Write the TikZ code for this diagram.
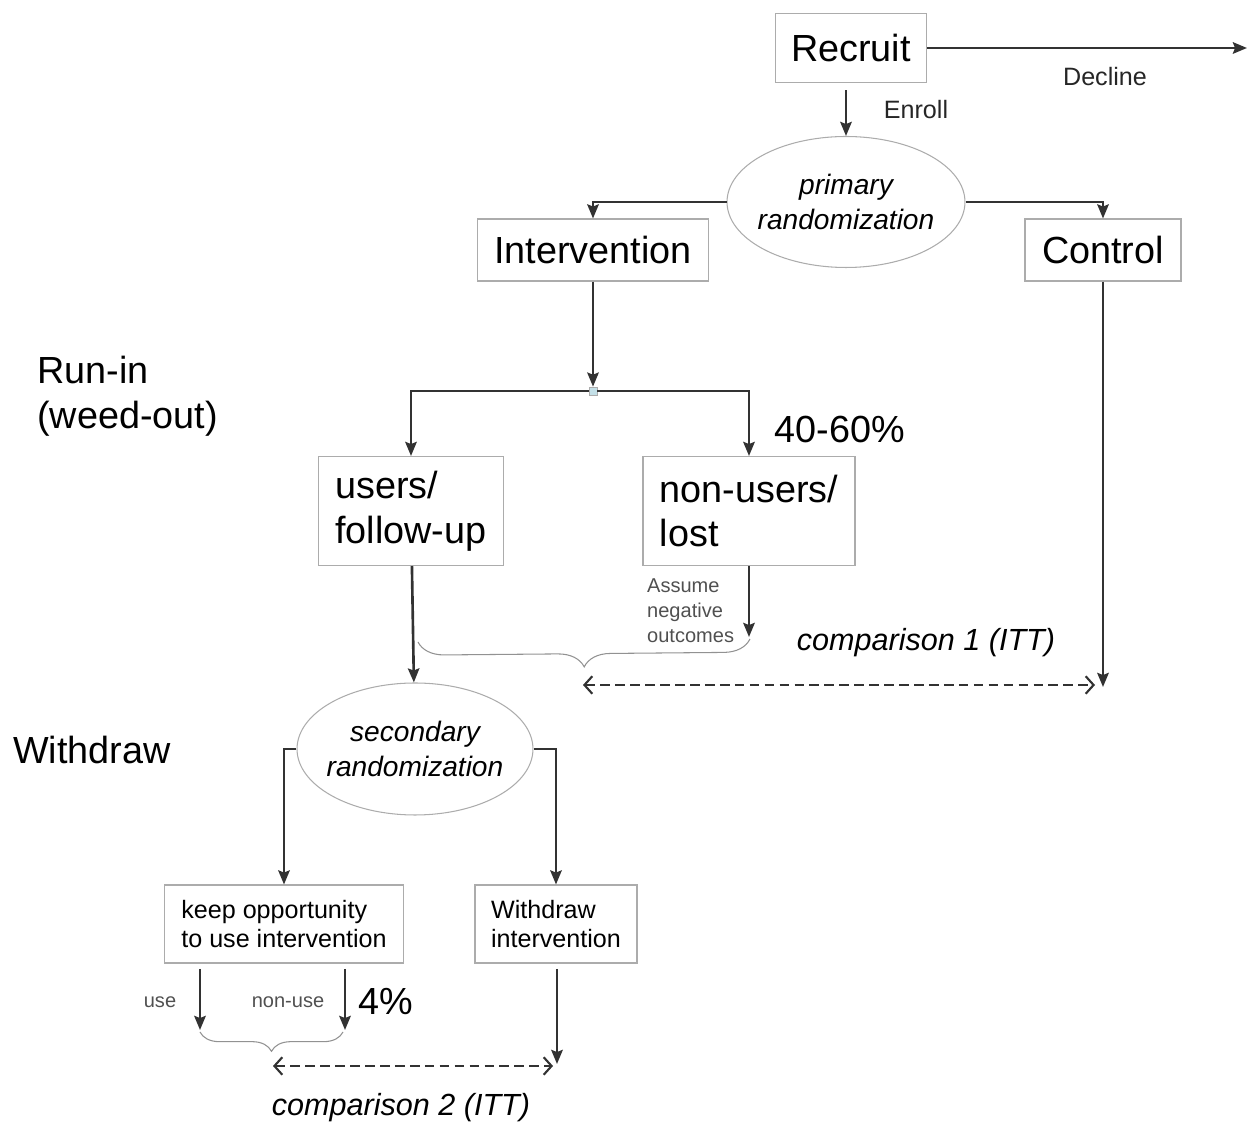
\documentclass[tikz,border=0pt]{standalone}
\usepackage{fontspec}
\setmainfont{Liberation Sans}
\usepackage{tikz}
\usetikzlibrary{arrows.meta}
\usetikzlibrary{decorations.pathreplacing}
\usetikzlibrary{positioning,shapes.geometric,calc}
\definecolor{boxgray}{RGB}{172,172,172}
\definecolor{arrowgray}{RGB}{50,50,50}
\definecolor{notegray}{RGB}{80,80,80}
\definecolor{splitblue}{RGB}{196,224,232}

\begin{document}
\begin{tikzpicture}[x=0.02cm,y=-0.02cm,
    box/.style={draw=boxgray,line width=0.6pt,inner sep=0pt,align=left},
    bigbox/.style={box,font=\fontsize{21.5}{25.6}\selectfont},
    smallbox/.style={box,font=\fontsize{14.3}{16}\selectfont},
    randbox/.style={draw=boxgray,line width=0.6pt,ellipse,inner sep=-6pt,align=center,
      font=\fontsize{16}{20}\selectfont\itshape},
    lbl/.style={font=\fontsize{14.3}{16}\selectfont,text=black!85},
    note/.style={font=\fontsize{11.4}{14.2}\selectfont,text=notegray,align=left},
    phase/.style={font=\fontsize{21.5}{25.6}\selectfont,align=left},
    itt/.style={font=\fontsize{17.4}{20}\selectfont\itshape},
    flow/.style={arrowgray,line width=1.5pt,-{Stealth[length=8pt,width=6.5pt,inset=1.2pt]}},
    compare/.style={arrowgray,line width=1.2pt,dash pattern=on 5.5pt off 3pt,
      {Straight Barb[length=4.5pt,width=10pt]}-{Straight Barb[length=4.5pt,width=10pt]}},
    curly/.style={boxgray!85!black,line width=0.6pt,decorate}]
    \useasboundingbox (0,0) rectangle (1249,1124);
    \node[bigbox,minimum width=3.02cm,minimum height=1.38cm] (recruit) at (851,48) {Recruit};
    \node[randbox,minimum width=4.76cm,minimum height=2.62cm] (primrand) at (846,202)
      {primary\\randomization};
    \node[bigbox,minimum width=4.62cm,minimum height=1.24cm] (interv) at (593,250) {Intervention};
    \node[bigbox,minimum width=3.12cm,minimum height=1.24cm] (control) at (1103,250) {Control};
    \node[draw=boxgray,fill=splitblue,line width=0.4pt,minimum size=0.16cm,inner sep=0pt]
      (split) at (593,391) {};
    \node[bigbox,minimum width=3.7cm,minimum height=2.18cm] (users) at (411,511) {users/\\follow-up};
    \node[bigbox,minimum width=4.24cm,minimum height=2.18cm] (nonusers) at (749,511) {non-users/\\lost};
    \node[randbox,minimum width=4.72cm,minimum height=2.64cm] (secrand) at (415,749)
      {secondary\\randomization};
    \node[smallbox,minimum width=4.78cm,minimum height=1.56cm] (keep) at (284,924)
      {keep opportunity\\to use intervention};
    \node[smallbox,minimum width=3.24cm,minimum height=1.56cm] (withdr) at (556,924)
      {Withdraw\\intervention};

    \node[lbl] (decline) at (1105,77) {Decline};
    \node[lbl] (enroll) at (916,110) {Enroll};
    \node[phase,anchor=west] (runin) at (31,396) {Run-in\\(weed-out)};
    \node[phase] (withdrawphase) at (92,750) {Withdraw};
    \node[phase] (droprate) at (840,430) {40-60\%};
    \node[note,anchor=west] (assume) at (641,611) {Assume\\negative\\outcomes};
    \node[itt] (comp1) at (926,643) {comparison 1 (ITT)};
    \node[note] (use) at (160,1002) {use};
    \node[note] (nonuse) at (288,1002) {non-use};
    \node[phase] (userate) at (386,1002) {4\%};
    \node[itt] (comp2) at (401,1108) {comparison 2 (ITT)};

    \coordinate (declineend) at (1247,48);
    \coordinate (lostend) at (749,637);
    \coordinate (controlend) at (1103,687);
    \coordinate (useend) at (200,1030);
    \coordinate (nonuseend) at (345,1030);
    \coordinate (withdrend) at (557,1064);
    \coordinate (comp1left) at (583,685);
    \coordinate (comp1right) at (1095,685);
    \coordinate (comp2left) at (273,1066);
    \coordinate (comp2right) at (553,1066);

    \draw[flow] (recruit.east) -- (declineend);
    \draw[flow] ([yshift=-4pt]recruit.south -| primrand.north) -- (primrand.north);
    \draw[flow] (primrand.west) -| (interv.north);
    \draw[flow] (primrand.east) -| (control.north);
    \draw[flow] (interv.south) -- (split.north);
    \draw[flow] (split.west) -| (users.north);
    \draw[flow] (split.east) -| (nonusers.north);
    \draw[flow] (nonusers) -- (lostend);
    \draw[flow] (users) -- (secrand);
    \draw[flow] (control) -- (controlend);
    \draw[compare] (comp1left) -- (comp1right);
    \draw[flow] (secrand.west) -| (keep.north);
    \draw[flow] (secrand.east) -| (withdr.north);
    \draw[flow] ([yshift=-3pt]keep.south -| useend) -- (useend);
    \draw[flow] ([yshift=-3pt]keep.south -| nonuseend) -- (nonuseend);
    \draw[flow] ([yshift=-3pt]withdr.south -| withdrend) -- (withdrend);
    \draw[compare] (comp2left) -- (comp2right);
    \draw[curly,decoration={brace,mirror,amplitude=15pt}] (418,642) -- (750,639);
    \draw[curly,decoration={brace,mirror,amplitude=11pt}] (200,1032) -- (343,1032);
  \end{tikzpicture}
\end{document}
